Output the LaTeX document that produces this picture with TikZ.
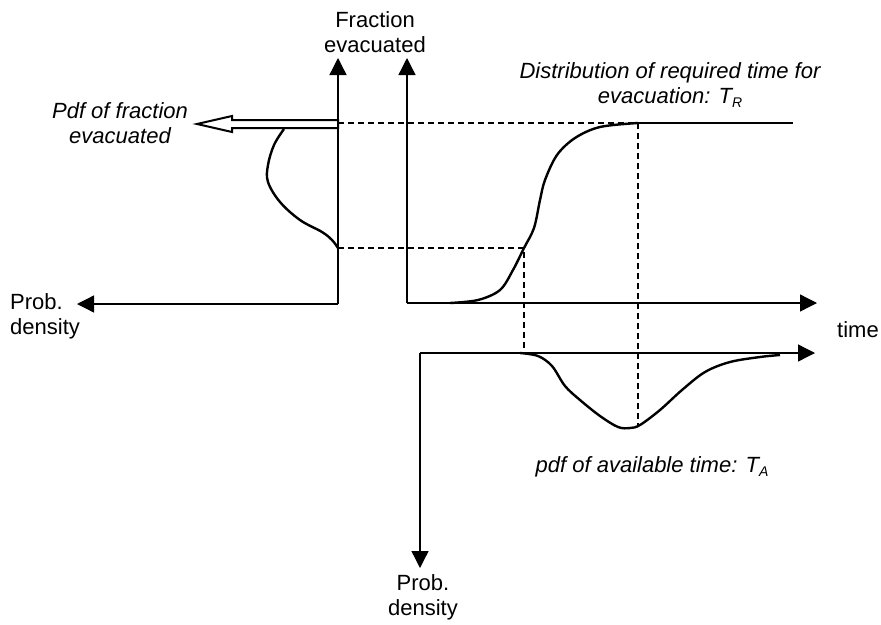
\documentclass[tikz,border=0pt]{standalone}
\usepackage{fontspec}
\setmainfont{Liberation Sans}
\usetikzlibrary{arrows.meta}
\newcommand{\lowsub}[1]{\raisebox{-0.35ex}{\fontsize{14}{14}\selectfont #1}}
\begin{document}
\begin{tikzpicture}[x=1pt,y=-1pt,
  axis/.style={line width=1.3pt,-{Triangle[length=17pt,width=17pt]}},
  curve/.style={line width=2.4pt,line join=round},
  guide/.style={line width=1.1pt,dash pattern=on 6pt off 4pt},
  lbl/.style={font=\fontsize{22}{25}\selectfont,align=center,inner sep=0pt},
  ilbl/.style={lbl,font=\fontsize{22}{25}\selectfont\itshape}]
\useasboundingbox (0,0) rectangle (881,624);
% coordinates
\coordinate (LO) at (338,304);
\coordinate (LT) at (338,58);
\coordinate (LL) at (77,304);
\coordinate (MO) at (407,303);
\coordinate (MT) at (407,58);
\coordinate (MR) at (817,303);
\coordinate (BO) at (420,353);
\coordinate (BR) at (815,353);
\coordinate (BB) at (420,568);
\coordinate (H1) at (338,123);
\coordinate (H2) at (638,123);
\coordinate (H3) at (793,123);
\coordinate (L1) at (338,248);
\coordinate (L2) at (524,248);
\coordinate (L3) at (524,353);
\coordinate (M3) at (638,427);
% axes
\draw[axis] (LO) -- (LT);
\draw[axis] (LO) -- (LL);
\draw[axis] (MO) -- (MT);
\draw[axis] (MO) -- (MR);
\draw[axis] (BO) -- (BR);
\draw[axis] (BO) -- (BB);
% guides
\draw[guide] (H1) -- (H2);
\draw[line width=1.3pt] (H2) -- (H3);
\draw[guide] (L1) -- (L2) -- (L3);
\draw[guide] (H2) -- (M3);
% hollow arrow
\draw[line width=2pt,line join=miter,fill=white] (338,120) -- (232,120) -- (232,116) -- (197,124) -- (232,132) -- (232,128) -- (338,128) -- cycle;
% left pdf
\draw[curve] plot[smooth,tension=0.6] coordinates {(284,129) (274,145) (268,165) (268,182) (280,202) (300,220) (322,232) (332,240) (338,248)};
% S curve
\draw[curve] plot[smooth,tension=0.55] coordinates {(450,303) (478,300) (500,290) (513,270) (524,248) (534,228) (540,200) (545,180) (557,155) (575,138) (600,127) (638,123)};
% lower pdf
\draw[curve] plot[smooth,tension=0.55] coordinates {(520,353) (538,356) (552,366) (565,386) (580,400) (600,416) (618,427) (630,428) (640,425) (660,410) (682,390) (705,372) (730,362) (760,357) (780,355)};
% labels
\node[lbl] (fe) at (375,32) {Fraction\\evacuated};
\node[lbl,align=left,anchor=west] (pd1) at (10,316) {Prob.\\density};
\node[lbl] (pd2) at (423,597) {Prob.\\density};
\node[lbl] (tm) at (858,330) {time};
\node[ilbl] (pfe) at (120,123) {Pdf of fraction\\evacuated};
\node[ilbl] (dist) at (670,85) {Distribution of required time for\\evacuation: T\lowsub{R}};
\node[ilbl] (pat) at (652,467) {pdf of available time: T\lowsub{A}};
\end{tikzpicture}
\end{document}
